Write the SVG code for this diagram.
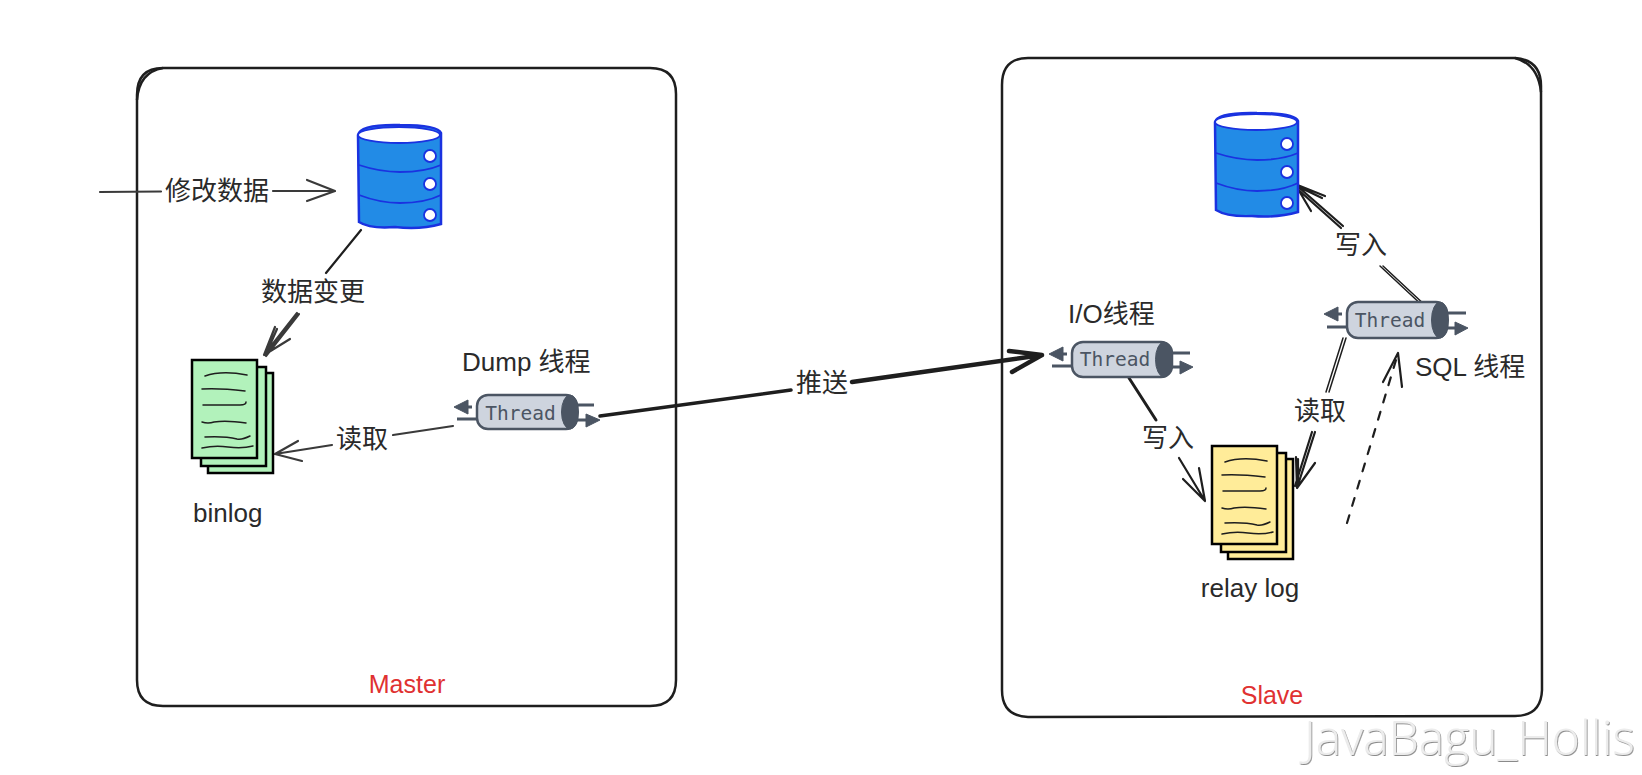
<svg xmlns="http://www.w3.org/2000/svg" width="1642" height="775" viewBox="0 0 1642 775">
<style>
text{font-family:"Liberation Sans","Noto Sans CJK SC",sans-serif;font-size:26px;fill:#2a2a2a}
.mid{text-anchor:middle}
.red{fill:#e03131;font-size:25px}
.box{fill:none;stroke:#1e1e1e;stroke-width:2.500}
.c{fill:none;stroke:#1e1e1e;stroke-width:2.200;stroke-linecap:round;stroke-linejoin:round}
.g{stroke:#3a3a3a}
.dbf{fill:#228be6;stroke:#1a32e0;stroke-width:2.500}
.dbl{fill:none;stroke:#1a32e0;stroke-width:1.800}
.dbw{fill:#fff;stroke:#1a32e0;stroke-width:1.800}
.page{stroke:#000;stroke-width:2.500}
.ln{fill:none;stroke:#1e1e1e;stroke-width:1.500;stroke-linecap:round}
.tb{fill:#ced4de;stroke:#4b5563;stroke-width:2.500}
.tc{fill:#4b5563;stroke:#4b5563;stroke-width:1}
.tl{fill:none;stroke:#4b5563;stroke-width:3}
.tt{font-family:"DejaVu Sans Mono",monospace;font-size:19.500px;fill:#4b5563;text-anchor:middle}
.wm{font-family:"Open Sans","Noto Sans",sans-serif;font-weight:300;font-size:48px;fill:#ececec;filter:url(#sh)}
</style>
<defs>
<filter id="sh" x="-5%" y="-20%" width="110%" height="140%"><feDropShadow dx="0.8" dy="1" stdDeviation="0.5" flood-color="#8a8a8a"/></filter>
</defs>
<g id="master-box">
<path class="box" d="M137 95Q137 68 163 68L650 68Q676 68 676 94L676 680Q676 706 650 706L163 706Q137 706 137 680Z"/>
<path class="box" d="M137 100Q139 72 163 68"/>
<text class="mid red" x="407" y="693">Master</text>
</g>
<g id="slave-box">
<path class="box" d="M1002 85Q1002 58 1028 58L1515 58Q1541 60 1541 86L1542 690Q1541 716 1515 716L1028 717Q1002 716 1002 690Z"/>
<path class="box" d="M1515 58Q1538 64 1541 92"/>
<text class="mid red" x="1272" y="704">Slave</text>
</g>
<g id="connectors">
<path class="c g" d="M100 192L161 191.500"/>
<path class="c g" d="M273 191L335 191M307 180L335 191L307 201"/>
<text class="mid" x="217" y="200">修改数据</text>
<path class="c" d="M361 230L326 273"/>
<path class="c g" d="M297 313L264 355M299 314L266 356M275 327L264 355L290 339M277 329L266 354"/>
<text class="mid" x="313" y="301">数据变更</text>
<path class="c g" d="M453 426L393 435M332 445L275 454M298 441L275 454L302 461"/>
<text class="mid" x="362" y="448">读取</text>
<path class="c" style="stroke-width:3.500" d="M600 416L791 390"/>
<path class="c" style="stroke-width:4.500" d="M852 382L1042 355M1009 351L1042 355L1012 372"/>
<text class="mid" x="822" y="392">推送</text>
<path class="c" style="stroke-width:3" d="M1129 378L1156 420"/>
<path class="c" d="M1179 458L1205 501M1183 479L1205 501L1199 468"/>
<text class="mid" x="1168" y="447">写入</text>
<path class="c" d="M1343 226L1295 184M1341 228L1294 186M1325 196L1295 184L1311 211M1322 198L1297 186"/>
<path class="c" style="stroke-width:1.500" d="M1380 266L1425 308M1383 266L1427 307"/>
<text class="mid" x="1361" y="254">写入</text>
<path class="c" style="stroke-width:1.500" d="M1343 338L1326 392M1346 338L1329 392"/>
<path class="c" d="M1315 432L1297 488M1312 432L1295 486M1296 457L1297 488L1315 463M1298 459L1298 486"/>
<text class="mid" x="1320" y="420">读取</text>
<path class="c" stroke-dasharray="8 10" d="M1347 523L1396 360"/>
<path class="c" d="M1383 382L1398 353L1402 387"/>
</g>
<g id="db-master">
<path class="dbf" d="M358 135Q360 124 400 125Q438 125 441 133L441 224Q420 230 395 227Q370 229 359 222Z"/>
<ellipse class="dbw" cx="399" cy="135" rx="41" ry="8"/>
<path class="dbl" d="M359 165Q380 172 400 172Q425 172 441 165M359 195Q380 203 400 203Q425 203 441 195"/>
<circle class="dbw" cx="430" cy="156" r="6"/><circle class="dbw" cx="430" cy="184" r="6"/><circle class="dbw" cx="430" cy="215" r="6"/>
</g>
<g id="binlog">
<rect class="page" x="208" y="373" width="65" height="100" fill="#b2f2bb"/>
<rect class="page" x="201" y="367" width="65" height="99" fill="#b2f2bb"/>
<rect class="page" x="192" y="360" width="65" height="98" fill="#b2f2bb"/>
<path class="ln" d="M205 376Q222 370 247 375M202 389Q220 388 245 391M203 405L240 405Q246 405 246 402M202 422Q208 424 214 422Q226 420 246 423M205 437Q225 436 237 439Q242 440 250 436M202 448Q215 445 228 447Q242 449 253 446"/>
<text x="193" y="522">binlog</text>
</g>
<g id="dump-thread" transform="translate(477 395)">
<path class="tl" d="M-5 12H-15M-20 24H0M100 10H117M100 25H110"/>
<path class="tc" d="M-23 12L-9 5V19ZM123 25L109 19V32Z"/>
<rect class="tb" x="0" y="0" width="100" height="34" rx="11"/>
<ellipse class="tc" cx="93" cy="17" rx="8.500" ry="17"/>
<text class="tt" x="43.500" y="25">Thread</text>
<text x="-15" y="-24">Dump 线程</text>
</g>
<g id="io-thread" transform="translate(1072 342)">
<path class="tl" d="M-5 12H-15M-20 24H0M100 11H118M100 25H110"/>
<path class="tc" d="M-23 12L-9 5V19ZM121 25L108 19V32Z"/>
<rect class="tb" x="0" y="0" width="100" height="35" rx="11"/>
<ellipse class="tc" cx="92" cy="17.500" rx="8.500" ry="17.500"/>
<text class="tt" x="43" y="24">Thread</text>
<text x="-4" y="-19">I/O线程</text>
</g>
<g id="sql-thread" transform="translate(1347 302)">
<path class="tl" d="M-5 12H-15M-20 25H0M100 11H119M100 26H110"/>
<path class="tc" d="M-23 12L-9 5V19ZM121 26L108 20V33Z"/>
<rect class="tb" x="0" y="0" width="100" height="36" rx="11"/>
<ellipse class="tc" cx="93" cy="18" rx="8.500" ry="18"/>
<text class="tt" x="43" y="25">Thread</text>
<text x="68" y="74">SQL 线程</text>
</g>
<g id="db-slave">
<path class="dbf" d="M1215 122Q1217 112 1257 113Q1295 113 1298 121L1298 212Q1277 218 1252 216Q1227 217 1216 210Z"/>
<ellipse class="dbw" cx="1256" cy="122" rx="41" ry="8"/>
<path class="dbl" d="M1216 153Q1237 160 1257 160Q1282 160 1298 153M1216 183Q1237 191 1257 191Q1282 191 1298 183"/>
<circle class="dbw" cx="1287" cy="144" r="6"/><circle class="dbw" cx="1287" cy="172" r="6"/><circle class="dbw" cx="1287" cy="203" r="6"/>
</g>
<g id="relay-log">
<g transform="translate(1020 86)">
<rect class="page" x="208" y="373" width="65" height="100" fill="#ffec99"/>
<rect class="page" x="201" y="367" width="65" height="99" fill="#ffec99"/>
<rect class="page" x="192" y="360" width="65" height="98" fill="#ffec99"/>
<path class="ln" d="M205 376Q222 370 247 375M202 389Q220 388 245 391M203 405L240 405Q246 405 246 402M202 422Q208 424 214 422Q226 420 246 423M205 437Q225 436 237 439Q242 440 250 436M202 448Q215 445 228 447Q242 449 253 446"/>
</g>
<text class="mid" x="1250" y="597">relay log</text>
</g>
<g id="watermark"><text class="wm" x="1304" y="755">JavaBagu_Hollis</text></g>
</svg>
